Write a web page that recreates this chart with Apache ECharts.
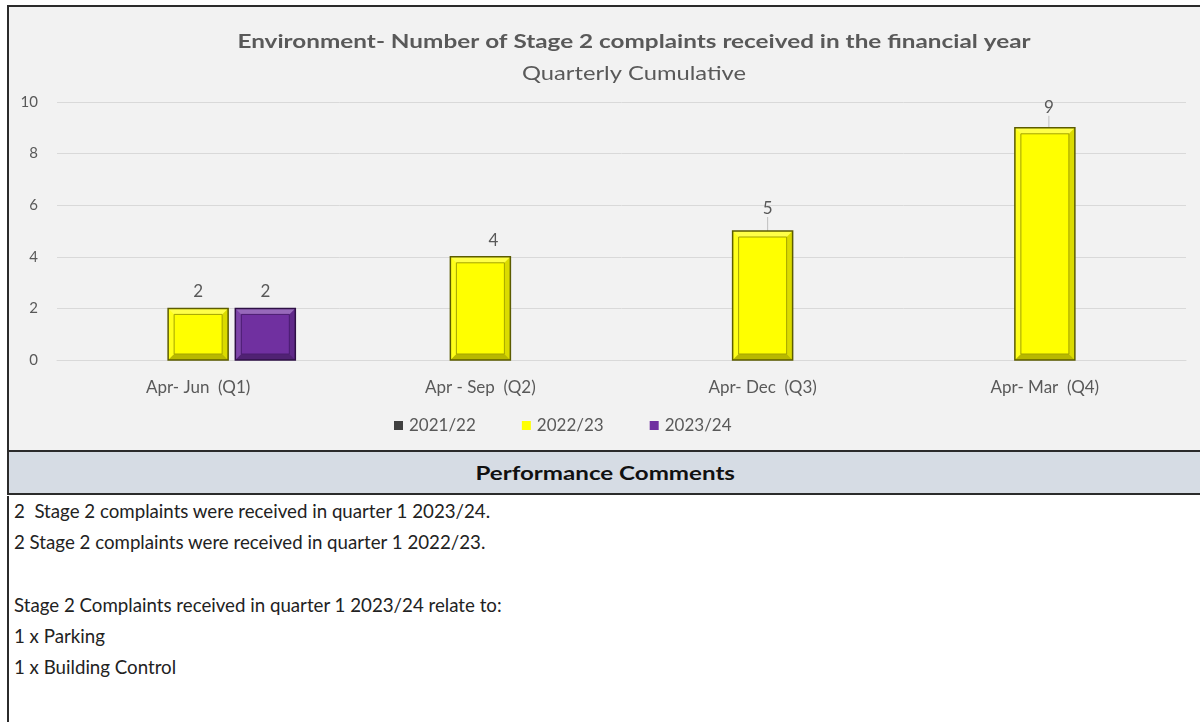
<!DOCTYPE html>
<html>
<head>
<meta charset="utf-8">
<title>Environment - Stage 2 complaints</title>
<script src="https://cdn.jsdelivr.net/npm/echarts@6/dist/echarts.min.js"></script>
<style>
  html, body { margin: 0; padding: 0; background: #ffffff; }
  body { width: 1200px; height: 722px; position: relative; overflow: hidden; font-family: Lato, "Open Sans", sans-serif; }
  #panel { position: absolute; left: 7px; top: 5px; width: 1193px; height: 443px; background: #f2f2f2;
           border-top: 2px solid #2b2b2b; border-left: 2px solid #2b2b2b; border-bottom: 2px solid #2b2b2b; box-sizing: content-box; }
  #chart { position: absolute; left: 0; top: 0; width: 1200px; height: 450px; }
  #header { position: absolute; left: 7px; top: 452px; width: 1193px; height: 41px; background: #d6dce4;
            border-left: 2px solid #2b2b2b; border-bottom: 2px solid #2b2b2b;
            text-align: center; line-height: 41px; font-weight: bold; font-size: 19px; color: #111; }
  #header span { display: inline-block; transform: scaleX(1.27); }
  #comments { position: absolute; left: 7px; top: 496px; width: 1193px; height: 226px;
              border-left: 2px solid #2b2b2b; padding-left: 5px; box-sizing: border-box;
              font-size: 18.7px; line-height: 31.2px; color: #222222; }
  #comments div { height: 31.2px; white-space: pre; }
</style>
</head>
<body>
<div id="panel"></div>
<div id="chart"></div>
<div id="header"><span>Performance Comments</span></div>
<div id="comments"></div>
<script>
// Quarterly cumulative Stage 2 complaints, Environment
const categories = ['Apr- Jun  (Q1)', 'Apr - Sep  (Q2)', 'Apr- Dec  (Q3)', 'Apr- Mar  (Q4)'];
const seriesNames = ['2021/22', '2022/23', '2023/24'];
const values2021 = [null, null, null, null];
const values2022 = [2, 4, 5, 9];
const values2023 = [2, null, null, null];
const yTicks = [0, 2, 4, 6, 8, 10];
const commentLines = [
  '2  Stage 2 complaints were received in quarter 1 2023/24.',
  '2 Stage 2 complaints were received in quarter 1 2022/23.',
  '',
  'Stage 2 Complaints received in quarter 1 2023/24 relate to:',
  '1 x Parking',
  '1 x Building Control'
];

const seriesColors = ['#404040', '#ffff00', '#7030a0'];
const edgeColors = ['#1a1a1a', '#5c5c00', '#2e1045'];
const innerLine = ['#222222', '#a3a300', '#4a1c70'];
const BAR_W = 60;
const BAR_GAP = 0.12;
const BAR_STEP = BAR_W * (1 + BAR_GAP);
const TEXT = '#595959';
const FONT = 'Lato';

const commentsEl = document.getElementById('comments');
commentLines.forEach(function (line) {
  const d = document.createElement('div');
  d.textContent = line;
  commentsEl.appendChild(d);
});

const allValues = [values2021, values2022, values2023];

// bevel overlay data: [category index, value, series index]
const bevelData = [];
allValues.forEach(function (arr, si) {
  arr.forEach(function (v, ci) {
    if (v != null) bevelData.push([ci, v, si]);
  });
});

function bevelItem(params, api) {
  const ci = api.value(0), v = api.value(1), si = api.value(2);
  const top = api.coord([ci, v]);
  const base = api.coord([ci, 0]);
  const cx = top[0] + (si - 1) * BAR_STEP;
  const x0 = cx - BAR_W / 2, x1 = cx + BAR_W / 2, y0 = top[1], y1 = base[1];
  const b = 6;
  const ix0 = x0 + b, ix1 = x1 - b, iy0 = y0 + b, iy1 = y1 - b;
  return {
    type: 'group',
    children: [
      { type: 'polygon', shape: { points: [[x0, y0], [x1, y0], [ix1, iy0], [ix0, iy0]] },
        style: { fill: 'rgba(255,255,255,0.28)' } },
      { type: 'polygon', shape: { points: [[x0, y0], [ix0, iy0], [ix0, iy1], [x0, y1]] },
        style: { fill: 'rgba(255,255,255,0.10)' } },
      { type: 'polygon', shape: { points: [[x1, y0], [x1, y1], [ix1, iy1], [ix1, iy0]] },
        style: { fill: 'rgba(0,0,0,0.14)' } },
      { type: 'polygon', shape: { points: [[x0, y1], [ix0, iy1], [ix1, iy1], [x1, y1]] },
        style: { fill: 'rgba(0,0,0,0.28)' } },
      { type: 'rect', shape: { x: ix0, y: iy0, width: ix1 - ix0, height: iy1 - iy0 },
        style: { fill: null, stroke: innerLine[si], lineWidth: 1 } },
      { type: 'rect', shape: { x: x0, y: y0, width: x1 - x0, height: y1 - y0 },
        style: { fill: null, stroke: edgeColors[si], lineWidth: 1.5 } }
    ]
  };
}

// nudges for the Q2-Q4 labels of 2022/23, with leader lines on Q3 and Q4
const labelNudge = [{}, { dx: 13 }, { dx: 5, dy: -6 }, { dx: 4, dy: -4 }];

const chart = echarts.init(document.getElementById('chart'), null, { renderer: 'canvas' });

const barSeries = allValues.map(function (arr, si) {
  return {
    name: seriesNames[si],
    type: 'bar',
    data: arr.map(function (v, i) {
      return { value: v, labelLine: { show: si === 1 && i >= 2 } };
    }),
    barWidth: BAR_W,
    barGap: (BAR_GAP * 100) + '%',
    itemStyle: { color: seriesColors[si] },
    label: {
      show: true, position: 'top', distance: 8,
      color: TEXT, fontSize: 17, fontFamily: FONT
    },
    labelLine: { lineStyle: { color: '#bfbfbf', width: 1 } },
    labelLayout: function (p) {
      return si === 1 ? labelNudge[p.dataIndex] : {};
    },
    emphasis: { disabled: true }
  };
});

chart.setOption({
  animation: false,
  backgroundColor: 'transparent',
  graphic: [
    { type: 'text', x: 634, y: 42, scaleX: 1.35,
      style: { text: 'Environment- Number of Stage 2 complaints received in the financial year',
               fill: TEXT, font: 'bold 18px ' + FONT, align: 'center', verticalAlign: 'middle' } },
    { type: 'text', x: 634, y: 74, scaleX: 1.25,
      style: { text: 'Quarterly Cumulative', fill: TEXT, font: '19px ' + FONT,
               align: 'center', verticalAlign: 'middle' } }
  ],
  legend: {
    data: seriesNames,
    left: 389, top: 412,
    itemWidth: 9, itemHeight: 9, itemGap: 46,
    icon: 'rect',
    textStyle: { color: TEXT, fontSize: 17, fontFamily: FONT, padding: [0, 0, 0, 1] }
  },
  grid: { left: 57, right: 14, top: 102, bottom: 90, containLabel: false },
  xAxis: {
    type: 'category',
    data: categories,
    axisLine: { show: true, lineStyle: { color: '#d9d9d9' } },
    axisTick: { show: false },
    axisLabel: { color: TEXT, fontSize: 17, fontFamily: FONT, margin: 19 }
  },
  yAxis: {
    type: 'value',
    min: yTicks[0], max: yTicks[yTicks.length - 1], interval: yTicks[1] - yTicks[0],
    axisLine: { show: false },
    axisTick: { show: false },
    axisLabel: { color: TEXT, fontSize: 15, fontFamily: FONT, margin: 19 },
    splitLine: { lineStyle: { color: '#d9d9d9' } }
  },
  series: barSeries.concat([{
    type: 'custom',
    name: 'bevel',
    silent: true,
    renderItem: bevelItem,
    data: bevelData,
    z: 3
  }])
});
</script>
</body>
</html>
